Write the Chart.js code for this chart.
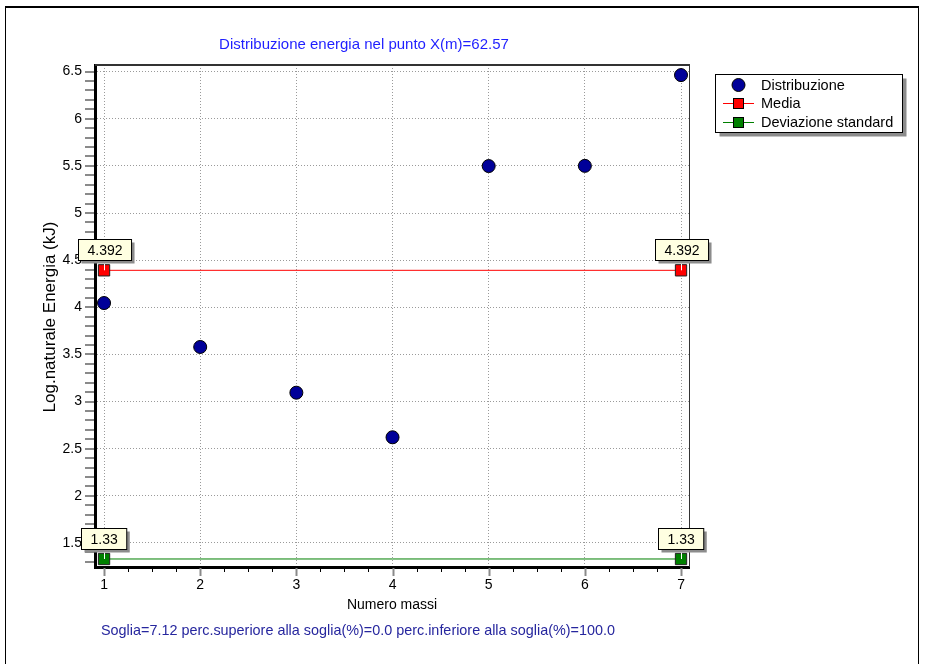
<!DOCTYPE html>
<html>
<head>
<meta charset="utf-8">
<script src="https://cdn.jsdelivr.net/npm/chart.js@4"></script>
<style>
  html, body { margin: 0; padding: 0; background: #ffffff; }
  #wrap { width: 925px; height: 664px; }
</style>
</head>
<body>
<div id="wrap"><canvas id="ch1" width="925" height="664"></canvas></div>
<script>
// dati
var masse = [1, 2, 3, 4, 5, 6, 7];
var logEnergia = [4.045, 3.579, 3.094, 2.621, 5.498, 5.5, 6.463];
var mediaX = [1, 7];
var media = [4.392, 4.392];
var devX = [1, 7];
var deviazione = [1.33, 1.33];
var yTicks = [1.5, 2, 2.5, 3, 3.5, 4, 4.5, 5, 5.5, 6, 6.5];
var xTicks = [1, 2, 3, 4, 5, 6, 7];

var titolo = "Distribuzione energia nel punto X(m)=62.57";
var titoloY = "Log.naturale Energia (kJ)";
var titoloX = "Numero massi";
var nota = "Soglia=7.12 perc.superiore alla soglia(%)=0.0 perc.inferiore alla soglia(%)=100.0";
var nomiSerie = ["Distribuzione", "Media", "Deviazione standard"];

var FONT = "'Liberation Sans', Arial, sans-serif";

function punti(xs, ys){
    return xs.map(function(x, i){ return {x: x, y: ys[i]}; });
}

function etichetta(ctx, testo, cx, bottom){
    ctx.save();
    ctx.font = "14px " + FONT;
    var w = ctx.measureText(testo).width + 18;
    var h = 21;
    var x = Math.round(cx - w / 2) + 0.5;
    var y = Math.round(bottom - h) + 0.5;
    ctx.fillStyle = "#8c8c8c";
    ctx.fillRect(x + 3, y + 3, w, h);
    ctx.fillStyle = "#ffffe1";
    ctx.fillRect(x, y, w, h);
    ctx.strokeStyle = "#000000";
    ctx.lineWidth = 1;
    ctx.strokeRect(x, y, w, h);
    ctx.fillStyle = "#000000";
    ctx.textAlign = "center";
    ctx.textBaseline = "middle";
    ctx.fillText(testo, x + w / 2, y + h / 2 + 1);
    ctx.restore();
}

var extra = {
    id: "extra",
    beforeDraw: function(chart){
        var ctx = chart.ctx;
        ctx.save();
        ctx.fillStyle = "#ffffff";
        ctx.fillRect(0, 0, chart.width, chart.height);
        // cornice esterna
        ctx.strokeStyle = "#000000";
        ctx.lineWidth = 1;
        ctx.strokeRect(5.5, 7.5, 913, 660);
        ctx.lineWidth = 2;
        ctx.beginPath();
        ctx.moveTo(5, 7); ctx.lineTo(919, 7);
        ctx.stroke();
        ctx.restore();
    },
    afterDraw: function(chart){
        var ctx = chart.ctx;
        var a = chart.chartArea;
        var xs = chart.scales.x, ys = chart.scales.y;
        ctx.save();

        // bordo alto e destro
        ctx.strokeStyle = "#333333";
        ctx.lineWidth = 2;
        ctx.beginPath();
        ctx.moveTo(a.left, a.top); ctx.lineTo(a.right + 1, a.top);
        ctx.stroke();
        ctx.lineWidth = 1;
        ctx.beginPath();
        ctx.moveTo(a.right + 0.5, a.top); ctx.lineTo(a.right + 0.5, a.bottom);
        ctx.stroke();

        // tacche asse y
        ctx.strokeStyle = "#8a8a8a";
        ctx.lineWidth = 2;
        for (var v = 1.3; v <= 6.55; v += 0.1){
            var py = Math.round(ys.getPixelForValue(v));
            if (py < a.top || py > a.bottom) continue;
            ctx.beginPath();
            ctx.moveTo(a.left - 10, py); ctx.lineTo(a.left - 1, py);
            ctx.stroke();
        }
        // tacche asse x
        for (var t = 1; t <= 7.01; t += 0.25){
            var px = Math.round(xs.getPixelForValue(t)) + 0.5;
            var major = Math.abs(t - Math.round(t)) < 0.01;
            ctx.strokeStyle = major ? "#8a8a8a" : "#000000";
            ctx.lineWidth = major ? 2 : 1;
            ctx.beginPath();
            ctx.moveTo(px, a.bottom + 1); ctx.lineTo(px, a.bottom + (major ? 9 : 5));
            ctx.stroke();
        }

        // etichette dei valori
        [[mediaX, media, function(v){ return v.toFixed(3); }],
         [devX, deviazione, function(v){ return v.toFixed(2); }]].forEach(function(s){
            s[0].forEach(function(x, i){
                var px = xs.getPixelForValue(x);
                var py = ys.getPixelForValue(s[1][i]);
                ctx.strokeStyle = "#ffffff";
                ctx.lineWidth = 1;
                ctx.beginPath();
                ctx.moveTo(Math.round(px) + 0.5, py - 10); ctx.lineTo(Math.round(px) + 0.5, py);
                ctx.stroke();
                etichetta(ctx, s[2](s[1][i]), px, py - 10);
            });
        });

        // legenda
        var lx = 715.5, ly = 74.5, lw = 187, lh = 58;
        ctx.fillStyle = "#8c8c8c";
        ctx.fillRect(lx + 4, ly + 4, lw, lh);
        ctx.fillStyle = "#ffffff";
        ctx.fillRect(lx, ly, lw, lh);
        ctx.strokeStyle = "#000000";
        ctx.lineWidth = 1;
        ctx.strokeRect(lx, ly, lw, lh);
        var righe = [85, 103, 122];
        ctx.font = "14.5px " + FONT;
        ctx.textBaseline = "middle";
        ctx.textAlign = "left";
        chart.data.datasets.forEach(function(d, i){
            var ry = righe[i];
            if (i > 0){
                ctx.strokeStyle = d.borderColor;
                ctx.lineWidth = 1;
                ctx.beginPath();
                ctx.moveTo(723, ry + 0.5); ctx.lineTo(754, ry + 0.5);
                ctx.stroke();
                ctx.fillStyle = d.pointBackgroundColor;
                ctx.fillRect(733.5, ry - 4.5, 10, 10);
                ctx.strokeStyle = "#000000";
                ctx.strokeRect(733.5, ry - 4.5, 10, 10);
            } else {
                ctx.fillStyle = d.pointBackgroundColor;
                ctx.beginPath();
                ctx.arc(738.5, ry, 6.5, 0, Math.PI * 2);
                ctx.fill();
                ctx.strokeStyle = "#000000";
                ctx.stroke();
            }
            ctx.fillStyle = "#000000";
            ctx.fillText(d.label, 761, ry + 1);
        });

        // testi
        ctx.textAlign = "center";
        ctx.font = "15px " + FONT;
        ctx.fillStyle = "#1f1fff";
        ctx.fillText(titolo, 364, 45);
        ctx.font = "14px " + FONT;
        ctx.fillStyle = "#000000";
        ctx.fillText(titoloX, (a.left + a.right) / 2, 605);
        ctx.textAlign = "left";
        ctx.font = "14.4px " + FONT;
        ctx.fillStyle = "#26269e";
        ctx.fillText(nota, 101, 631);
        ctx.font = "17px " + FONT;
        ctx.translate(50, 317);
        ctx.rotate(-Math.PI / 2);
        ctx.textAlign = "center";
        ctx.fillStyle = "#000000";
        ctx.fillText(titoloY, 0, 0);
        ctx.restore();
    }
};

new Chart(document.getElementById("ch1"), {
    type: "scatter",
    data: {
        datasets: [{
            label: nomiSerie[0],
            data: punti(masse, logEnergia),
            showLine: false,
            pointRadius: 6.5,
            pointHoverRadius: 6.5,
            pointBackgroundColor: "#000099",
            pointBorderColor: "#000000",
            pointBorderWidth: 1,
            borderColor: "#000099"
        }, {
            label: nomiSerie[1],
            data: punti(mediaX, media),
            showLine: true,
            borderColor: "#ff0000",
            borderWidth: 1,
            pointStyle: "rect",
            pointRadius: 8,
            pointBackgroundColor: "#ff0000",
            pointBorderColor: "#202020",
            pointBorderWidth: 1
        }, {
            label: nomiSerie[2],
            data: punti(devX, deviazione),
            showLine: true,
            borderColor: "#008000",
            borderWidth: 1,
            pointStyle: "rect",
            pointRadius: 8,
            pointBackgroundColor: "#008000",
            pointBorderColor: "#202020",
            pointBorderWidth: 1
        }]
    },
    options: {
        responsive: false,
        animation: false,
        events: [],
        layout: { padding: { left: 0, right: 236, top: 65, bottom: 0 } },
        plugins: {
            legend: { display: false },
            title: { display: false },
            tooltip: { enabled: false }
        },
        scales: {
            x: {
                type: "linear",
                min: 0.906,
                max: 7.083,
                afterBuildTicks: function(s){ s.ticks = xTicks.map(function(v){ return {value: v}; }); },
                afterFit: function(s){ s.height = 97; },
                ticks: {
                    padding: 10,
                    color: "#000000",
                    font: { family: FONT, size: 14 },
                    callback: function(v){ return String(v); }
                },
                grid: { color: "#9a9a9a", lineWidth: 1, drawTicks: false },
                border: { display: true, color: "#000000", width: 3, dash: [1, 2] }
            },
            y: {
                type: "linear",
                min: 1.245,
                max: 6.57,
                afterBuildTicks: function(s){ s.ticks = yTicks.map(function(v){ return {value: v}; }); },
                afterFit: function(s){ s.width = 95; },
                ticks: {
                    padding: 13,
                    color: "#000000",
                    font: { family: FONT, size: 14 },
                    callback: function(v){ return String(v); }
                },
                grid: { color: "#9a9a9a", lineWidth: 1, drawTicks: false },
                border: { display: true, color: "#000000", width: 3, dash: [1, 2] }
            }
        }
    },
    plugins: [extra]
});
</script>
</body>
</html>
